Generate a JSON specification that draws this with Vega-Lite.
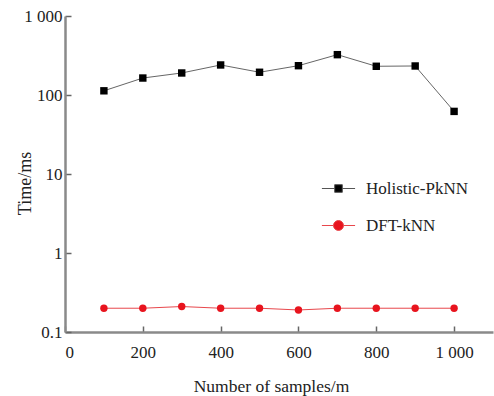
{
  "$schema": "https://vega.github.io/schema/vega-lite/v6.json",
  "width": 428,
  "height": 316,
  "autosize": "none",
  "padding": {"left": 65, "top": 16, "right": 1, "bottom": 64},
  "background": "white",
  "config": {
    "view": {"stroke": null},
    "font": "Liberation Serif",
    "axis": {
      "labelFont": "Liberation Serif",
      "titleFont": "Liberation Serif",
      "labelColor": "#222",
      "titleColor": "#222",
      "labelFontSize": 17,
      "titleFontSize": 17,
      "titleFontWeight": "normal",
      "domainColor": "#8a8a8a",
      "domainWidth": 2.5,
      "tickColor": "#666",
      "tickWidth": 1.5,
      "grid": false
    }
  },
  "data": {
    "values": [
      {"n": 100, "t": 113, "series": "Holistic-PkNN"},
      {"n": 200, "t": 164, "series": "Holistic-PkNN"},
      {"n": 300, "t": 190, "series": "Holistic-PkNN"},
      {"n": 400, "t": 240, "series": "Holistic-PkNN"},
      {"n": 500, "t": 194, "series": "Holistic-PkNN"},
      {"n": 600, "t": 235, "series": "Holistic-PkNN"},
      {"n": 700, "t": 324, "series": "Holistic-PkNN"},
      {"n": 800, "t": 231, "series": "Holistic-PkNN"},
      {"n": 900, "t": 233, "series": "Holistic-PkNN"},
      {"n": 1000, "t": 62, "series": "Holistic-PkNN"},
      {"n": 100, "t": 0.2, "series": "DFT-kNN"},
      {"n": 200, "t": 0.2, "series": "DFT-kNN"},
      {"n": 300, "t": 0.21, "series": "DFT-kNN"},
      {"n": 400, "t": 0.2, "series": "DFT-kNN"},
      {"n": 500, "t": 0.2, "series": "DFT-kNN"},
      {"n": 600, "t": 0.19, "series": "DFT-kNN"},
      {"n": 700, "t": 0.2, "series": "DFT-kNN"},
      {"n": 800, "t": 0.2, "series": "DFT-kNN"},
      {"n": 900, "t": 0.2, "series": "DFT-kNN"},
      {"n": 1000, "t": 0.2, "series": "DFT-kNN"}
    ]
  },
  "encoding": {
    "x": {
      "field": "n",
      "type": "quantitative",
      "scale": {"domain": [0, 1100], "nice": false},
      "axis": {
        "title": "Number of samples/m",
        "titleFont": "Liberation Serif",
        "titleFontSize": 17.5,
        "titleX": 206,
        "titleY": 59,
        "titleBaseline": "alphabetic",
        "values": [0, 200, 400, 600, 800, 1000],
        "labelExpr": "datum.value == 1000 ? '1 000' : datum.label",
        "tickSize": -6,
        "labelPadding": 18
      }
    },
    "y": {
      "field": "t",
      "type": "quantitative",
      "scale": {"type": "log", "domain": [0.1, 1000], "nice": false},
      "axis": {
        "title": "Time/ms",
        "titleFont": "Liberation Serif",
        "titleFontSize": 18,
        "titleX": -35,
        "titleY": 167,
        "titleAngle": -90,
        "titleAlign": "center",
        "titleBaseline": "alphabetic",
        "values": [0.1, 1, 10, 100, 1000],
        "labelExpr": "datum.value == 1000 ? '1 000' : datum.value == 0.1 ? '0.1' : format(datum.value, 'd')",
        "tickSize": -6,
        "labelPadding": 9
      }
    }
  },
  "layer": [
    {
      "mark": {"type": "point", "filled": true, "opacity": 1, "size": 0, "strokeWidth": 1},
      "encoding": {
        "fill": {
          "field": "series",
          "type": "nominal",
          "scale": {"domain": ["Holistic-PkNN", "DFT-kNN"], "range": ["#000000", "#e8141e"]},
          "legend": {
            "title": null,
            "orient": "none",
            "legendX": 256,
            "legendY": 155,
            "labelFont": "Liberation Serif",
            "labelFontSize": 17,
            "labelColor": "#222",
            "symbolSize": 1100,
            "symbolStrokeWidth": 1,
            "symbolOpacity": 1,
            "rowPadding": 11,
            "labelOffset": 10
          }
        },
        "stroke": {
          "field": "series",
          "type": "nominal",
          "scale": {"domain": ["Holistic-PkNN", "DFT-kNN"], "range": ["#555555", "#e8474c"]}
        },
        "shape": {
          "field": "series",
          "type": "nominal",
          "scale": {
            "domain": ["Holistic-PkNN", "DFT-kNN"],
            "range": [
              "M-1,0H-0.23M0.23,0H1M-0.23,-0.23H0.23V0.23H-0.23Z",
              "M-1,0H-0.3M0.3,0H1M0.3,0A0.3,0.3 0 1,1 -0.3,0A0.3,0.3 0 1,1 0.3,0Z"
            ]
          }
        }
      }
    },
    {
      "transform": [{"filter": "datum.series === 'Holistic-PkNN'"}],
      "mark": {"type": "line", "strokeWidth": 1, "color": "#666666"},
      "encoding": {}
    },
    {
      "transform": [{"filter": "datum.series === 'DFT-kNN'"}],
      "mark": {"type": "line", "strokeWidth": 1, "color": "#e8474c"},
      "encoding": {}
    },
    {
      "transform": [{"filter": "datum.series === 'Holistic-PkNN'"}],
      "mark": {"type": "point", "shape": "square", "filled": true, "opacity": 1, "color": "#000000", "size": 55, "strokeWidth": 0},
      "encoding": {}
    },
    {
      "transform": [{"filter": "datum.series === 'DFT-kNN'"}],
      "mark": {"type": "point", "shape": "circle", "filled": true, "opacity": 1, "color": "#e8141e", "size": 55, "strokeWidth": 0},
      "encoding": {}
    }
  ]
}
